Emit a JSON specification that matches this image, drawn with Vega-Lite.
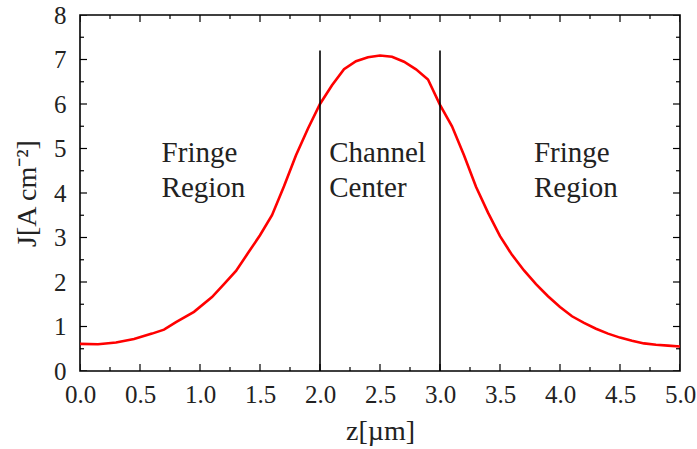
{
  "$schema": "https://vega.github.io/schema/vega-lite/v6.json",
  "width": 600,
  "height": 356,
  "autosize": "none",
  "padding": {"left": 80, "top": 15, "right": 17, "bottom": 78},
  "config": {
    "view": {"stroke": "black", "strokeWidth": 1.6},
    "axis": {"grid": false, "domain": false, "ticks": false}
  },
  "datasets": {
    "curve": [
      {"z": 0.0, "J": 0.61}, {"z": 0.15, "J": 0.6}, {"z": 0.3, "J": 0.64}, {"z": 0.45, "J": 0.72},
      {"z": 0.6, "J": 0.84}, {"z": 0.7, "J": 0.93}, {"z": 0.8, "J": 1.1}, {"z": 0.95, "J": 1.33},
      {"z": 1.1, "J": 1.66}, {"z": 1.2, "J": 1.95}, {"z": 1.3, "J": 2.25}, {"z": 1.4, "J": 2.65},
      {"z": 1.5, "J": 3.05}, {"z": 1.6, "J": 3.5}, {"z": 1.7, "J": 4.15}, {"z": 1.8, "J": 4.85},
      {"z": 1.9, "J": 5.45}, {"z": 2.0, "J": 6.0}, {"z": 2.1, "J": 6.42}, {"z": 2.2, "J": 6.78},
      {"z": 2.3, "J": 6.96}, {"z": 2.4, "J": 7.05}, {"z": 2.5, "J": 7.09}, {"z": 2.6, "J": 7.06},
      {"z": 2.7, "J": 6.95}, {"z": 2.8, "J": 6.78}, {"z": 2.9, "J": 6.55}, {"z": 3.0, "J": 5.98},
      {"z": 3.1, "J": 5.5}, {"z": 3.2, "J": 4.85}, {"z": 3.3, "J": 4.14}, {"z": 3.4, "J": 3.56},
      {"z": 3.5, "J": 3.03}, {"z": 3.6, "J": 2.61}, {"z": 3.7, "J": 2.26}, {"z": 3.8, "J": 1.95},
      {"z": 3.9, "J": 1.68}, {"z": 4.0, "J": 1.44}, {"z": 4.1, "J": 1.23}, {"z": 4.2, "J": 1.08},
      {"z": 4.3, "J": 0.95}, {"z": 4.4, "J": 0.84}, {"z": 4.5, "J": 0.75}, {"z": 4.6, "J": 0.68},
      {"z": 4.7, "J": 0.62}, {"z": 4.8, "J": 0.59}, {"z": 4.9, "J": 0.57}, {"z": 5.0, "J": 0.55}
    ],
    "rules": [{"z": 2.0, "top": 7.2, "bottom": 0}, {"z": 3.0, "top": 7.2, "bottom": 0}],
    "labels": [
      {"z": 0.68, "J": 4.7, "t": "Fringe\nRegion"},
      {"z": 2.077, "J": 4.7, "t": "Channel\nCenter"},
      {"z": 3.783, "J": 4.7, "t": "Fringe\nRegion"}
    ],
    "xticks": [
      {"z": 0, "J": 0, "kind": "major"}, {"z": 0.25, "J": 0, "kind": "minor"}, {"z": 0.5, "J": 0, "kind": "major"}, {"z": 0.75, "J": 0, "kind": "minor"},
      {"z": 1, "J": 0, "kind": "major"}, {"z": 1.25, "J": 0, "kind": "minor"}, {"z": 1.5, "J": 0, "kind": "major"}, {"z": 1.75, "J": 0, "kind": "minor"},
      {"z": 2, "J": 0, "kind": "major"}, {"z": 2.25, "J": 0, "kind": "minor"}, {"z": 2.5, "J": 0, "kind": "major"}, {"z": 2.75, "J": 0, "kind": "minor"},
      {"z": 3, "J": 0, "kind": "major"}, {"z": 3.25, "J": 0, "kind": "minor"}, {"z": 3.5, "J": 0, "kind": "major"}, {"z": 3.75, "J": 0, "kind": "minor"},
      {"z": 4, "J": 0, "kind": "major"}, {"z": 4.25, "J": 0, "kind": "minor"}, {"z": 4.5, "J": 0, "kind": "major"}, {"z": 4.75, "J": 0, "kind": "minor"},
      {"z": 5, "J": 0, "kind": "major"},
      {"z": 0, "J": 8, "kind": "major"}, {"z": 0.25, "J": 8, "kind": "minor"}, {"z": 0.5, "J": 8, "kind": "major"}, {"z": 0.75, "J": 8, "kind": "minor"},
      {"z": 1, "J": 8, "kind": "major"}, {"z": 1.25, "J": 8, "kind": "minor"}, {"z": 1.5, "J": 8, "kind": "major"}, {"z": 1.75, "J": 8, "kind": "minor"},
      {"z": 2, "J": 8, "kind": "major"}, {"z": 2.25, "J": 8, "kind": "minor"}, {"z": 2.5, "J": 8, "kind": "major"}, {"z": 2.75, "J": 8, "kind": "minor"},
      {"z": 3, "J": 8, "kind": "major"}, {"z": 3.25, "J": 8, "kind": "minor"}, {"z": 3.5, "J": 8, "kind": "major"}, {"z": 3.75, "J": 8, "kind": "minor"},
      {"z": 4, "J": 8, "kind": "major"}, {"z": 4.25, "J": 8, "kind": "minor"}, {"z": 4.5, "J": 8, "kind": "major"}, {"z": 4.75, "J": 8, "kind": "minor"},
      {"z": 5, "J": 8, "kind": "major"}
    ],
    "yticks": [
      {"z": 0, "J": 0, "kind": "major"}, {"z": 0, "J": 0.5, "kind": "minor"}, {"z": 0, "J": 1, "kind": "major"}, {"z": 0, "J": 1.5, "kind": "minor"},
      {"z": 0, "J": 2, "kind": "major"}, {"z": 0, "J": 2.5, "kind": "minor"}, {"z": 0, "J": 3, "kind": "major"}, {"z": 0, "J": 3.5, "kind": "minor"},
      {"z": 0, "J": 4, "kind": "major"}, {"z": 0, "J": 4.5, "kind": "minor"}, {"z": 0, "J": 5, "kind": "major"}, {"z": 0, "J": 5.5, "kind": "minor"},
      {"z": 0, "J": 6, "kind": "major"}, {"z": 0, "J": 6.5, "kind": "minor"}, {"z": 0, "J": 7, "kind": "major"}, {"z": 0, "J": 7.5, "kind": "minor"},
      {"z": 0, "J": 8, "kind": "major"},
      {"z": 5, "J": 0, "kind": "major"}, {"z": 5, "J": 0.5, "kind": "minor"}, {"z": 5, "J": 1, "kind": "major"}, {"z": 5, "J": 1.5, "kind": "minor"},
      {"z": 5, "J": 2, "kind": "major"}, {"z": 5, "J": 2.5, "kind": "minor"}, {"z": 5, "J": 3, "kind": "major"}, {"z": 5, "J": 3.5, "kind": "minor"},
      {"z": 5, "J": 4, "kind": "major"}, {"z": 5, "J": 4.5, "kind": "minor"}, {"z": 5, "J": 5, "kind": "major"}, {"z": 5, "J": 5.5, "kind": "minor"},
      {"z": 5, "J": 6, "kind": "major"}, {"z": 5, "J": 6.5, "kind": "minor"}, {"z": 5, "J": 7, "kind": "major"}, {"z": 5, "J": 7.5, "kind": "minor"},
      {"z": 5, "J": 8, "kind": "major"}
    ]
  },
  "resolve": {"axis": {"x": "independent", "y": "independent"}},
  "layer": [
    {
      "data": {"name": "curve"},
      "mark": {"type": "line", "color": "#ff0000", "strokeWidth": 2.6},
      "encoding": {
        "x": {"field": "z", "type": "quantitative", "scale": {"domain": [0, 5], "nice": false},
              "axis": {"orient": "bottom",
                       "values": [0, 0.5, 1, 1.5, 2, 2.5, 3, 3.5, 4, 4.5, 5], "format": ".1f",
                       "labelPadding": 11, "labelFlush": false, "labelOverlap": false,
                       "labelFont": "Liberation Serif", "labelFontSize": 25, "labelColor": "#222",
                       "titleFont": "Liberation Serif", "titleFontSize": 28, "titleFontWeight": "normal", "titleColor": "#222",
                       "title": "z[µm]", "titlePadding": 10}},
        "y": {"field": "J", "type": "quantitative", "scale": {"domain": [0, 8], "nice": false},
              "axis": {"orient": "left",
                       "values": [0, 1, 2, 3, 4, 5, 6, 7, 8], "format": "d",
                       "labelPadding": 14, "labelFlush": false, "labelOverlap": false,
                       "labelFont": "Liberation Serif", "labelFontSize": 25, "labelColor": "#222",
                       "titleFont": "Liberation Serif", "titleFontSize": 28, "titleFontWeight": "normal", "titleColor": "#222",
                       "title": "J[A cm⁻²]", "titlePadding": 12}}
      }
    },
    {
      "data": {"name": "rules"},
      "mark": {"type": "rule", "color": "black", "strokeWidth": 1.6},
      "encoding": {
        "x": {"field": "z", "type": "quantitative", "axis": null},
        "y": {"field": "bottom", "type": "quantitative", "axis": null},
        "y2": {"field": "top"}
      }
    },
    {
      "data": {"name": "labels"},
      "mark": {"type": "text", "align": "left", "baseline": "alphabetic", "fontSize": 29, "font": "Liberation Serif", "color": "#222", "lineBreak": "\n", "lineHeight": 35},
      "encoding": {
        "x": {"field": "z", "type": "quantitative", "axis": null},
        "y": {"field": "J", "type": "quantitative", "axis": null},
        "text": {"field": "t"}
      }
    },
    {
      "data": {"name": "xticks"},
      "mark": {"type": "tick", "orient": "vertical", "color": "black", "opacity": 1, "thickness": 1.2, "clip": true},
      "encoding": {
        "x": {"field": "z", "type": "quantitative", "axis": null},
        "y": {"field": "J", "type": "quantitative", "axis": null},
        "size": {"field": "kind", "type": "ordinal", "scale": {"domain": ["major", "minor"], "range": [14, 8]}, "legend": null}
      }
    },
    {
      "data": {"name": "yticks"},
      "mark": {"type": "tick", "orient": "horizontal", "color": "black", "opacity": 1, "thickness": 1.2, "clip": true},
      "encoding": {
        "x": {"field": "z", "type": "quantitative", "axis": null},
        "y": {"field": "J", "type": "quantitative", "axis": null},
        "size": {"field": "kind", "type": "ordinal", "scale": {"domain": ["major", "minor"], "range": [14, 8]}, "legend": null}
      }
    }
  ]
}
